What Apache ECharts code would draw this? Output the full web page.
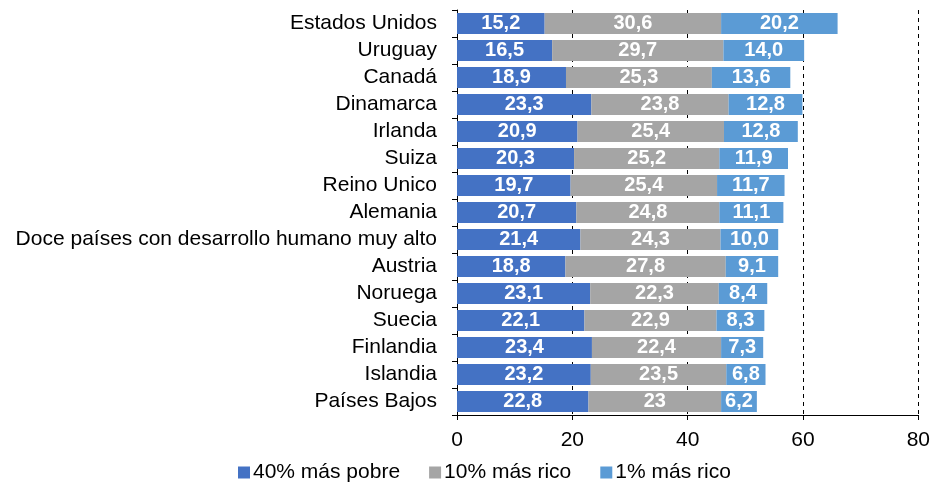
<!DOCTYPE html>
<html>
<head>
<meta charset="utf-8">
<script src="https://cdn.jsdelivr.net/npm/echarts@6/dist/echarts.min.js"></script>
<style>html,body{margin:0;padding:0;background:#fff}#c{width:933px;height:483px}</style>
</head>
<body>
<div id="c"></div>
<script>
var categories = ["Estados Unidos","Uruguay","Canadá","Dinamarca","Irlanda","Suiza","Reino Unico","Alemania","Doce países con desarrollo humano muy alto","Austria","Noruega","Suecia","Finlandia","Islandia","Países Bajos"];
var pobre40 = [15.2,16.5,18.9,23.3,20.9,20.3,19.7,20.7,21.4,18.8,23.1,22.1,23.4,23.2,22.8];
var rico10 = [30.6,29.7,25.3,23.8,25.4,25.2,25.4,24.8,24.3,27.8,22.3,22.9,22.4,23.5,23];
var rico1 = [20.2,14.0,13.6,12.8,12.8,11.9,11.7,11.1,10.0,9.1,8.4,8.3,7.3,6.8,6.2];
var seriesNames = ["40% más pobre","10% más rico","1% más rico"];
var xTicks = [0,20,40,60,80];
// labels as printed in the original (one value shown without decimal)
var rico10Labels = ["30,6","29,7","25,3","23,8","25,4","25,2","25,4","24,8","24,3","27,8","22,3","22,9","22,4","23,5","23"];

var FONT = "Liberation Sans, Arial, sans-serif";
function fmt(v){ return v.toFixed(1).replace('.', ','); }
var labelStyle = {show:true, position:'inside', color:'#fff', fontWeight:'bold', fontSize:20, fontFamily:FONT};

var chart = echarts.init(document.getElementById('c'));
chart.setOption({
  animation:false,
  grid:{left:457, right:11, top:10, bottom:68},
  legend:{
    bottom:-5, left:233, itemWidth:12, itemHeight:12, itemGap:29, icon:'rect',
    textStyle:{fontSize:21, fontFamily:FONT, color:'#000', padding:[0,0,0,-2]},
    data:seriesNames
  },
  xAxis:{
    type:'value', min:xTicks[0], max:xTicks[xTicks.length-1], interval:xTicks[1]-xTicks[0],
    axisLine:{show:true, lineStyle:{color:'#000'}},
    axisTick:{show:true, length:5, lineStyle:{color:'#000'}},
    axisLabel:{fontSize:21, fontFamily:FONT, color:'#000', margin:15},
    splitLine:{show:true, lineStyle:{color:'#000', type:[4,4], width:1}}
  },
  yAxis:{
    type:'category', inverse:true, data:categories,
    axisLine:{show:true, lineStyle:{color:'#000'}},
    axisTick:{show:true, length:5, interval:0, lineStyle:{color:'#000'}},
    axisLabel:{fontSize:21, fontFamily:FONT, color:'#000', margin:20, interval:0}
  },
  series:[
    {name:seriesNames[0], type:'bar', stack:'s', barWidth:'77%', itemStyle:{color:'#4472C4'},
     label:Object.assign({}, labelStyle, {formatter:function(p){return fmt(p.value);}}), data:pobre40},
    {name:seriesNames[1], type:'bar', stack:'s', itemStyle:{color:'#A5A5A5'},
     label:Object.assign({}, labelStyle, {formatter:function(p){return rico10Labels[p.dataIndex];}}), data:rico10},
    {name:seriesNames[2], type:'bar', stack:'s', itemStyle:{color:'#5B9BD5'},
     label:Object.assign({}, labelStyle, {formatter:function(p){return fmt(p.value);}}), data:rico1}
  ]
});
</script>
</body>
</html>
